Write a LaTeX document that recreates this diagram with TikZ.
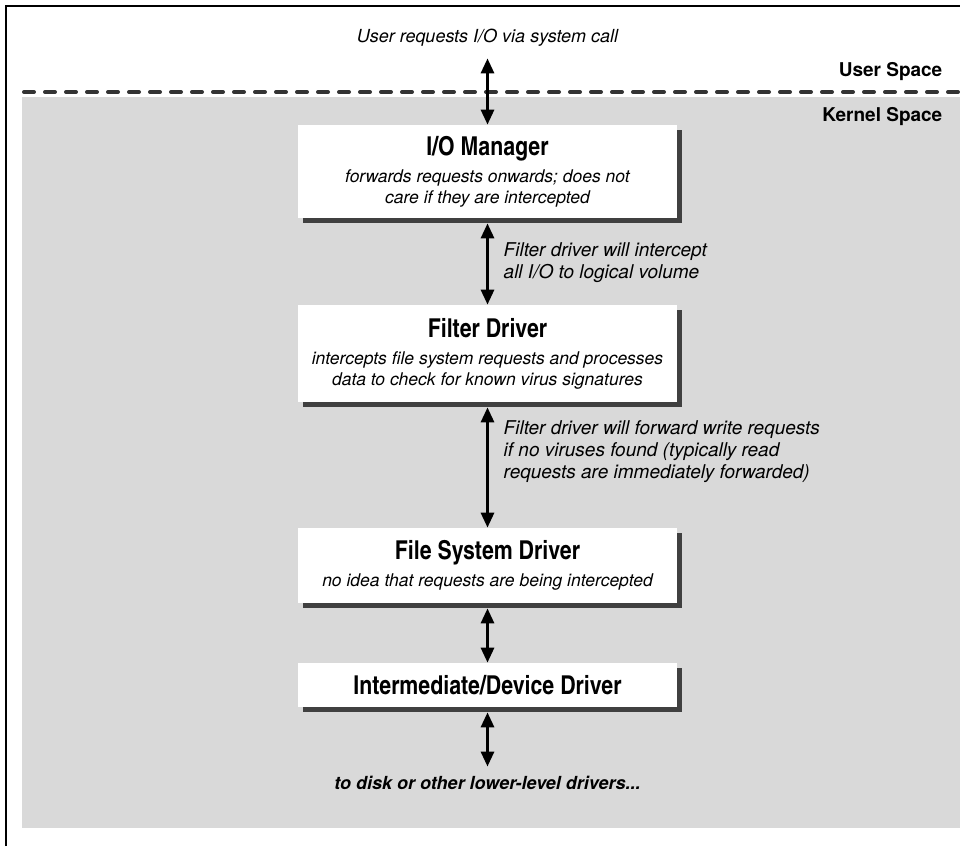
\documentclass[tikz,border=0pt]{standalone}
\usepackage{fontspec}
\setmainfont{TeX Gyre Heros}
\newfontfamily\headfamily{texgyreheroscn-bold.otf}
\usetikzlibrary{arrows.meta,shadows}
\tikzset{every picture/.style={line width=0.75pt}}

\definecolor{kernelgray}{gray}{0.85}
\definecolor{shadowgray}{gray}{0.25}
\newcommand{\layerhead}{\fontsize{26}{30}\selectfont\headfamily}
\newcommand{\layernote}{\normalfont\fontsize{17.5}{21}\selectfont\itshape}

\tikzset{
  layer/.style={fill=white, minimum width=379pt, align=center, inner sep=0pt,
    font=\fontsize{17.5}{21}\selectfont,
    drop shadow={shadow xshift=5pt, shadow yshift=-5pt, fill=shadowgray, opacity=1}},
  iolink/.style={line width=3pt, {Triangle[width=13pt,length=15pt]}-{Triangle[width=13pt,length=15pt]}},
  note/.style={anchor=west, align=left, font=\fontsize{19}{22}\selectfont\itshape},
  space/.style={anchor=east, font=\fontsize{19}{22}\selectfont\bfseries}
}

\begin{document}
\begin{tikzpicture}[x=1pt,y=-1pt]
    \useasboundingbox (0,0) rectangle (960,846);

    % 内核空间底色
    \fill[kernelgray] (22,97) rectangle (960,828);

    % 边框
    \draw[line width=1.5pt] (6,846) -- (6,6) -- (960,6);

    % 用户/内核分界
    \draw[line width=4pt, dash pattern=on 10pt off 11pt, line cap=round, black!80] (24,92) -- (960,92);
    \node[space] (usp) at (946,72) {User Space};
    \node[space] (ksp) at (946,117) {Kernel Space};

    % 各层驱动
    \node[font=\fontsize{18}{21}\selectfont\itshape] (usr) at (487.5,38) {User requests I/O via system call};
    \node[layer, minimum height=93pt] (iom) at (487.5,171.5)
        {\layerhead I/O Manager\\[6pt]\layernote forwards requests onwards; does not\\\layernote care if they are intercepted};
    \node[layer, minimum height=97pt] (flt) at (487.5,353.5)
        {\layerhead Filter Driver\\[6pt]\layernote intercepts file system requests and processes\\\layernote data to check for known virus signatures};
    \node[layer, minimum height=75pt] (fsd) at (487.5,565.5)
        {\layerhead File System Driver\\[6pt]\layernote no idea that requests are being intercepted};
    \node[layer, minimum height=44pt] (idd) at (487.5,685)
        {\layerhead Intermediate/Device Driver};
    \node[font=\fontsize{18}{21}\selectfont\bfseries\itshape] (dsk) at (487.5,783)
        {to disk or other lower-level drivers...};

    % 箭头说明
    \node[note] (lbl1) at (500,263) {Filter driver will intercept\\all I/O to logical volume};
    \node[note] (lbl2) at (500,452) {Filter driver will forward write requests\\if no viruses found (typically read\\requests are immediately forwarded)};

    % 请求流向
    \draw[iolink, shorten <=8pt] (usr) -- (iom);
    \draw[iolink] ([yshift=-5pt]iom.south) -- (flt.north);
    \draw[iolink] ([yshift=-5pt]flt.south) -- (fsd.north);
    \draw[iolink] ([yshift=-5pt]fsd.south) -- (idd.north);
    \draw[iolink, shorten >=6pt] ([yshift=-5pt]idd.south) -- (dsk);
\end{tikzpicture}
\end{document}
